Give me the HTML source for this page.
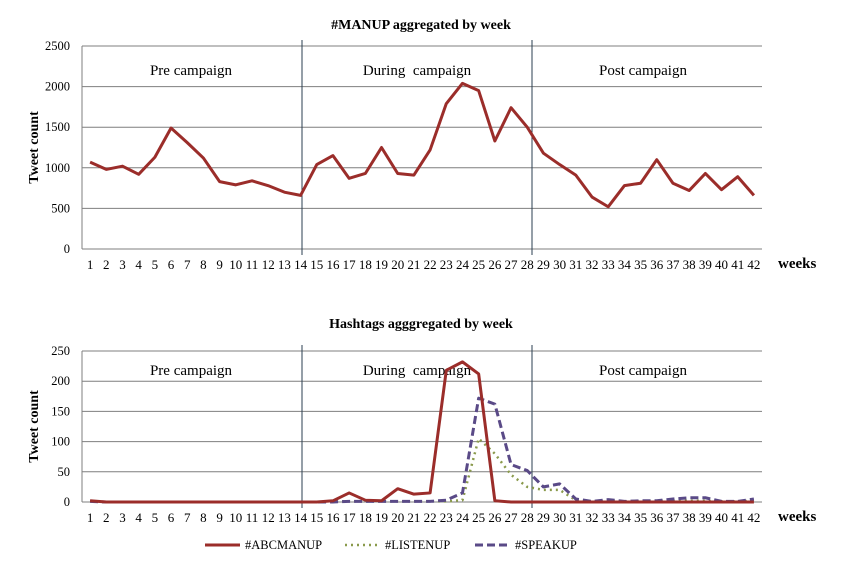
<!DOCTYPE html>
<html><head><meta charset="utf-8"><style>
body{margin:0;background:#fff;}
svg{font-family:"Liberation Serif",serif;}
</style></head><body>
<svg id="s" width="855" height="561" xmlns="http://www.w3.org/2000/svg"></svg>
<script>
const s=document.getElementById('s');let h='';
const L=82,R=762,cw=(R-L)/42,X=i=>L+(i-0.5)*cw;
function chart(top,bot,max,step,data,title,ty,phy){
  const Y=v=>bot-(v/max)*(bot-top);
  h+=`<text x="421" y="${ty}" font-size="14" font-weight="bold" text-anchor="middle">${title}</text>`;
  for(let v=0;v<=max;v+=step){h+=`<line x1="${L}" x2="${R}" y1="${Y(v)}" y2="${Y(v)}" stroke="#7f7f7f" stroke-width="1"/>`;
   h+=`<text x="${L-12}" y="${Y(v)+4}" font-size="12.5" text-anchor="end">${v}</text>`;}
  h+=`<line x1="${L}" x2="${L}" y1="${top}" y2="${bot}" stroke="#7f7f7f"/>`;
  for(let i=1;i<=42;i++)h+=`<text x="${X(i)}" y="${bot+20}" font-size="13" text-anchor="middle">${i}</text>`;
  h+=`<text x="778" y="${bot+19}" font-size="15" font-weight="bold">weeks</text>`;
  h+=`<text transform="translate(38,${(top+bot)/2}) rotate(-90)" font-size="14" font-weight="bold" text-anchor="middle">Tweet count</text>`;
  [302,532].forEach(x=>h+=`<line x1="${x}" x2="${x}" y1="${top-6}" y2="${bot+6}" stroke="#2b3f52" stroke-width="1"/>`);
  [["Pre campaign",191],["During  campaign",417],["Post campaign",643]].forEach(p=>h+=`<text x="${p[1]}" y="${phy}" font-size="15" text-anchor="middle" xml:space="preserve">${p[0]}</text>`);
  data.forEach(d=>{h+=`<polyline fill="none" stroke="${d.c}" stroke-width="${d.w}" ${d.da?`stroke-dasharray="${d.da}"`:''} stroke-linejoin="round" points="${d.v.map((v,i)=>X(i+1)+','+Y(v)).join(' ')}"/>`;});
}
const top1=[1070,980,1020,920,1130,1490,1310,1120,830,790,840,780,700,660,1040,1150,870,930,1250,930,910,1220,1790,2040,1950,1330,1740,1500,1180,1040,910,640,520,780,810,1100,810,720,930,730,890,660];
chart(46,249,2500,500,[{v:top1,c:"#9b2d2a",w:3}],"#MANUP aggregated by week",29,75);
const abc=[2,0,0,0,0,0,0,0,0,0,0,0,0,0,0,2,15,3,2,22,13,15,218,232,212,2,0,0,0,0,0,0,0,0,0,0,0,0,0,0,0,0];
const lis=[1,0,0,0,0,0,0,0,0,0,0,0,0,0,0,1,1,1,1,1,1,1,1,3,105,80,45,25,20,20,3,1,2,1,1,2,2,2,2,1,1,2];
const spk=[1,0,0,0,0,0,0,0,0,0,0,0,0,0,0,0,1,1,1,1,1,1,3,15,172,162,62,52,25,30,5,1,4,1,2,2,5,7,7,1,1,5];
chart(351,502,250,50,[{v:lis,c:"#8a9a4c",w:2.5,da:"2,4"},{v:spk,c:"#5a4a87",w:3,da:"8,4"},{v:abc,c:"#9b2d2a",w:3}],"Hashtags agggregated by week",328,375);
h+=`<line x1="205" x2="240" y1="545" y2="545" stroke="#9b2d2a" stroke-width="3"/><text x="245" y="549" font-size="12.5">#ABCMANUP</text>`;
h+=`<line x1="345" x2="380" y1="545" y2="545" stroke="#8a9a4c" stroke-width="2.5" stroke-dasharray="2,4"/><text x="385" y="549" font-size="12.5">#LISTENUP</text>`;
h+=`<line x1="475" x2="510" y1="545" y2="545" stroke="#5a4a87" stroke-width="3" stroke-dasharray="8,4"/><text x="515" y="549" font-size="12.5">#SPEAKUP</text>`;
s.innerHTML=h;
</script>
</body></html>
